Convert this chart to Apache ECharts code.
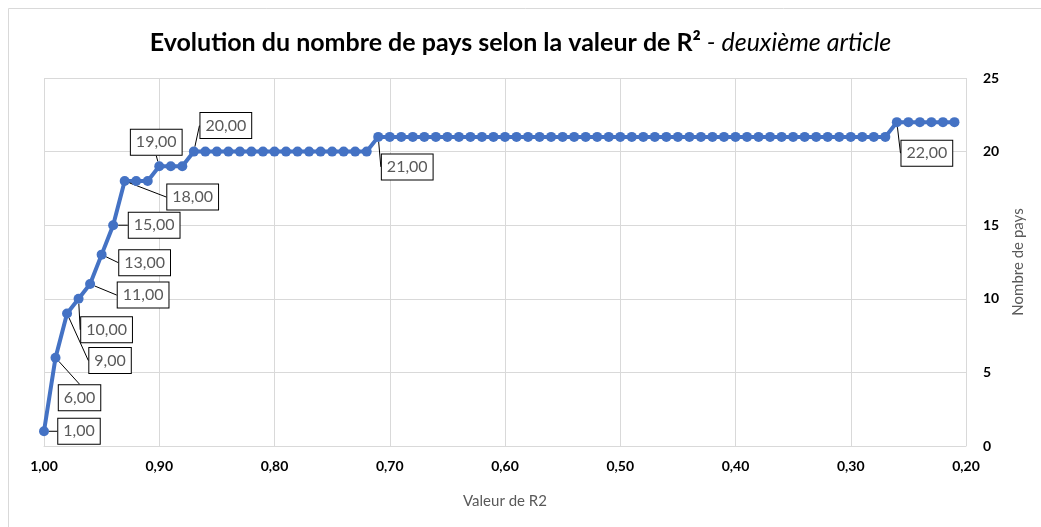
<!DOCTYPE html>
<html>
<head>
<meta charset="utf-8">
<script src="https://cdn.jsdelivr.net/npm/echarts@6/dist/echarts.min.js"></script>
<style>
  html, body { margin: 0; padding: 0; background: #ffffff; }
  #chart { width: 1041px; height: 527px; }
</style>
</head>
<body>
<div id="chart"></div>
<script>
// R² thresholds, from 1,00 down to 0,21
const r2Values = [
  1.00, 0.99, 0.98, 0.97, 0.96, 0.95, 0.94, 0.93, 0.92, 0.91,
  0.90, 0.89, 0.88, 0.87, 0.86, 0.85, 0.84, 0.83, 0.82, 0.81,
  0.80, 0.79, 0.78, 0.77, 0.76, 0.75, 0.74, 0.73, 0.72, 0.71,
  0.70, 0.69, 0.68, 0.67, 0.66, 0.65, 0.64, 0.63, 0.62, 0.61,
  0.60, 0.59, 0.58, 0.57, 0.56, 0.55, 0.54, 0.53, 0.52, 0.51,
  0.50, 0.49, 0.48, 0.47, 0.46, 0.45, 0.44, 0.43, 0.42, 0.41,
  0.40, 0.39, 0.38, 0.37, 0.36, 0.35, 0.34, 0.33, 0.32, 0.31,
  0.30, 0.29, 0.28, 0.27, 0.26, 0.25, 0.24, 0.23, 0.22, 0.21
];

// Number of countries retained for each threshold
const countryCounts = [
  1, 6, 9, 10, 11, 13, 15, 18, 18, 18,
  19, 19, 19, 20, 20, 20, 20, 20, 20, 20,
  20, 20, 20, 20, 20, 20, 20, 20, 20, 21,
  21, 21, 21, 21, 21, 21, 21, 21, 21, 21,
  21, 21, 21, 21, 21, 21, 21, 21, 21, 21,
  21, 21, 21, 21, 21, 21, 21, 21, 21, 21,
  21, 21, 21, 21, 21, 21, 21, 21, 21, 21,
  21, 21, 21, 21, 22, 22, 22, 22, 22, 22
];

// Points that carry a value callout (first occurrence of each count)
const labelledIndices = [0, 1, 2, 3, 4, 5, 6, 7, 10, 13, 29, 74];

// Callout placement relative to its point (pixels: box-centre offset)
const calloutOffsets = {
  0: [35, 0], 1: [24, 40], 2: [43, 47], 3: [28, 31], 4: [53, 11],
  5: [43, 8], 6: [41, 0], 7: [68, 16], 10: [-3, -24], 13: [32, -26],
  29: [29, 30], 74: [30, 31]
};

const fmt = v => v.toFixed(2).replace('.', ',');
const FONT = 'Lato';

const chart = echarts.init(document.getElementById('chart'), null, { renderer: 'canvas' });

const seriesData = r2Values.map((r, i) => {
  const item = { value: [r, countryCounts[i]] };
  if (labelledIndices.indexOf(i) >= 0) {
    item.label = { show: true };
    item.labelLine = { show: true };
  }
  return item;
});

chart.setOption({
  animation: false,
  backgroundColor: '#ffffff',
  textStyle: { fontFamily: FONT },
  graphic: [{
    type: 'rect',
    silent: true,
    z: -1,
    shape: { x: 8.5, y: 8.5, width: 1200, height: 700 },
    style: { fill: 'none', stroke: '#d9d9d9', lineWidth: 1 }
  }],
  title: {
    text: '{b|Evolution du nombre de pays selon la valeur de R²}{i| - deuxième article}',
    left: 'center',
    top: 25,
    textStyle: {
      rich: {
        b: { fontFamily: FONT, fontSize: 25, fontWeight: 'bold', color: '#000000' },
        i: { fontFamily: FONT, fontSize: 25, fontStyle: 'italic', fontWeight: 'normal', color: '#000000' }
      }
    }
  },
  grid: { left: 44, right: 75, top: 78, bottom: 81, containLabel: false },
  xAxis: {
    type: 'value',
    inverse: true,
    min: 0.2,
    max: 1.0,
    interval: 0.1,
    name: 'Valeur de R2',
    nameLocation: 'middle',
    nameGap: 48,
    nameTextStyle: { color: '#595959', fontSize: 15, fontFamily: FONT },
    axisLine: { show: true, lineStyle: { color: '#d9d9d9', width: 1 } },
    axisTick: { show: false },
    axisLabel: {
      formatter: v => fmt(v),
      color: '#000000',
      fontWeight: 'bold',
      fontSize: 14,
      margin: 13,
      fontFamily: FONT
    },
    splitLine: { show: true, lineStyle: { color: '#d9d9d9', width: 1 } }
  },
  yAxis: {
    type: 'value',
    position: 'right',
    min: 0,
    max: 25,
    interval: 5,
    name: 'Nombre de pays',
    nameLocation: 'middle',
    nameRotate: 90,
    nameGap: 45,
    nameTextStyle: { color: '#595959', fontSize: 15, fontFamily: FONT },
    axisLine: { show: false },
    axisTick: { show: false },
    axisLabel: {
      color: '#000000',
      fontWeight: 'bold',
      fontSize: 14,
      margin: 17,
      fontFamily: FONT
    },
    splitLine: { show: true, lineStyle: { color: '#d9d9d9', width: 1 } }
  },
  series: [{
    type: 'line',
    data: seriesData,
    symbol: 'circle',
    symbolSize: 10,
    showAllSymbol: true,
    lineStyle: { color: '#4472c4', width: 4 },
    itemStyle: { color: '#4472c4' },
    label: {
      show: false,
      formatter: p => fmt(p.value[1]),
      color: '#595959',
      fontSize: 16,
      fontFamily: FONT,
      backgroundColor: '#ffffff',
      borderColor: '#000000',
      borderWidth: 1,
      padding: [5, 5, 4, 5],
      align: 'center',
      verticalAlign: 'middle'
    },
    labelLine: {
      show: false,
      lineStyle: { color: '#000000', width: 1 }
    },
    labelLayout: params => {
      const off = calloutOffsets[params.dataIndex];
      if (!off) return {};
      const cx = params.rect.x + params.rect.width / 2;
      const cy = params.rect.y + params.rect.height / 2;
      return { x: cx + off[0], y: cy + off[1], align: 'center', verticalAlign: 'middle' };
    }
  }]
});
</script>
</body>
</html>
